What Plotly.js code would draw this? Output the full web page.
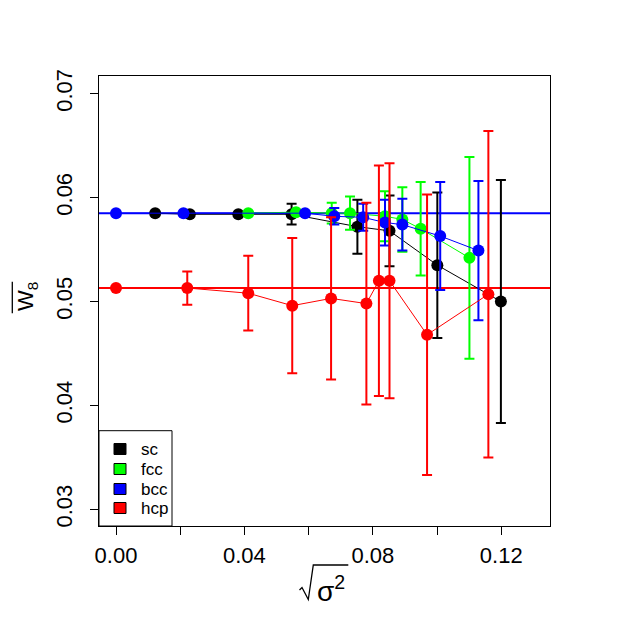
<!DOCTYPE html>
<html>
<head>
<meta charset="utf-8">
<script src="https://cdn.plot.ly/plotly-3.0.1.min.js"></script>
<style>
  html, body { margin: 0; padding: 0; background: #fff; }
  #chart { width: 627px; height: 626px; }
</style>
</head>
<body>
<div id="chart"></div>
<script>
// values
const scX = [0.0122, 0.0230, 0.0381, 0.0547, 0.0752, 0.0852, 0.1001, 0.1199];
const scY = [0.0585, 0.0584, 0.0584, 0.0584, 0.0572, 0.0568, 0.0535, 0.0500];
const scErr = [0, 0, 0.0001, 0.0010, 0.0026, 0.0034, 0.0070, 0.0117];

const fccX = [0.0412, 0.0561, 0.0672, 0.0729, 0.0838, 0.0892, 0.0949, 0.1101];
const fccY = [0.0585, 0.0586, 0.0585, 0.0585, 0.0582, 0.0579, 0.0570, 0.0542];
const fccErr = [0.0001, 0.0002, 0.0010, 0.0016, 0.0024, 0.0031, 0.0045, 0.0097];

const bccX = [0.0, 0.0210, 0.0589, 0.0680, 0.0770, 0.0838, 0.0892, 0.1010, 0.1129];
const bccY = [0.0585, 0.0585, 0.0585, 0.0582, 0.0581, 0.0576, 0.0574, 0.0563, 0.0549];
const bccErr = [0, 0, 0.0002, 0.0008, 0.0013, 0.0022, 0.0025, 0.0052, 0.0067];

const hcpX = [0.0, 0.0222, 0.0412, 0.0549, 0.0670, 0.0780, 0.0819, 0.0852, 0.0969, 0.1160];
const hcpY = [0.0513, 0.0513, 0.0508, 0.0496, 0.0503, 0.0498, 0.0520, 0.0520, 0.0468, 0.0507];
const hcpErr = [0, 0.0016, 0.0036, 0.0065, 0.0078, 0.0097, 0.0111, 0.0113, 0.0135, 0.0157];

const bccRef = 0.0585, hcpRef = 0.0513;

const labels = ["sc", "fcc", "bcc", "hcp"];
const colors = ["#000000", "#00ff00", "#0000ff", "#ff0000"];
const xTicks = [0, 0.04, 0.08, 0.12];
const xTickText = ["0.00", "0.04", "0.08", "0.12"];
const xMinor = [0.02, 0.06, 0.1];
const yTicks = [0.03, 0.04, 0.05, 0.06, 0.07];
const yTickText = ["0.03", "0.04", "0.05", "0.06", "0.07"];

const font = "Liberation Sans, Arial, sans-serif";

// plot box in pixels, used for the hand-made legend and titles
const L = 99, R = 550, T = 76, B = 526;
const px = (x) => (x - L) / (R - L);
const py = (y) => (B - y) / (B - T);

const series = [
  [scX, scY, scErr],
  [fccX, fccY, fccErr],
  [bccX, bccY, bccErr],
  [hcpX, hcpY, hcpErr],
];

const traces = series.map(([x, y, e], i) => ({
  x, y,
  type: "scatter",
  mode: "lines+markers",
  name: labels[i],
  line: { color: colors[i], width: 1 },
  marker: { color: colors[i], size: 12 },
  error_y: { type: "data", array: e, visible: true, color: colors[i], thickness: 2, width: 5 },
  showlegend: false,
}));

const shapes = [
  { type: "line", xref: "paper", x0: 0, x1: 1, yref: "y", y0: bccRef, y1: bccRef,
    line: { color: colors[2], width: 2 }, layer: "below" },
  { type: "line", xref: "paper", x0: 0, x1: 1, yref: "y", y0: hcpRef, y1: hcpRef,
    line: { color: colors[3], width: 2 }, layer: "below" },
  // legend box
  { type: "rect", xref: "paper", yref: "paper", x0: 0, x1: px(172), y0: 0, y1: py(430.7),
    line: { color: "#000", width: 1 }, fillcolor: "#fff" },
  // overline of the y title
  { type: "line", xref: "paper", yref: "paper", x0: px(12.3), x1: px(12.3), y0: py(281.7), y1: py(313.3),
    line: { color: "#000", width: 1.3 } },
  // radical of the x title
  { type: "path", xref: "paper", yref: "paper",
    path: `M ${px(299.5)} ${py(590)} L ${px(302)} ${py(587.5)} L ${px(308.3)} ${py(599.5)} L ${px(313.3)} ${py(565)} L ${px(348.3)} ${py(565)}`,
    line: { color: "#000", width: 1.3 } },
];

const annotations = [
  { xref: "paper", yref: "paper", x: px(27), y: py(297), text: "W<sub>8</sub>", textangle: -90,
    showarrow: false, xanchor: "center", yanchor: "middle", font: { family: font, size: 22, color: "#000" } },
  { xref: "paper", yref: "paper", x: px(315), y: py(589), text: "σ<sup>2</sup>",
    showarrow: false, xanchor: "left", yanchor: "middle", font: { family: font, size: 28, color: "#000" } },
];

const rows = [449, 469, 489, 508];
labels.forEach((lab, i) => {
  shapes.push({ type: "rect", xref: "paper", yref: "paper", x0: px(114), x1: px(126),
    y0: py(rows[i] + 5.5), y1: py(rows[i] - 5.5), line: { color: "#000", width: 1 }, fillcolor: colors[i] });
  annotations.push({ xref: "paper", yref: "paper", x: px(139), y: py(rows[i]), text: lab,
    showarrow: false, xanchor: "left", yanchor: "middle", font: { family: font, size: 17, color: "#000" } });
});

const axis = {
  showgrid: false, zeroline: false, showline: true, mirror: true,
  linecolor: "#000", linewidth: 1, ticks: "outside", ticklen: 8, tickwidth: 1, tickcolor: "#000",
  tickfont: { family: font, size: 22, color: "#000" },
};

Plotly.newPlot("chart", traces, {
  width: 627, height: 626,
  margin: { l: L, r: 627 - R, t: T, b: 626 - B },
  paper_bgcolor: "#fff", plot_bgcolor: "#fff",
  xaxis: { ...axis, range: [-0.0053, 0.1352], tickmode: "array", tickvals: xTicks, ticktext: xTickText, ticklabelstandoff: 2,
    minor: { tickmode: "array", tickvals: xMinor, ticks: "outside", ticklen: 8, tickwidth: 1, tickcolor: "#000" } },
  yaxis: { ...axis, range: [0.0284, 0.0717], tickmode: "array", tickvals: yTicks, ticktext: yTickText, tickangle: -90, ticklabelstandoff: 9 },
  shapes, annotations,
}, { displayModeBar: false, staticPlot: true });
</script>
</body>
</html>
